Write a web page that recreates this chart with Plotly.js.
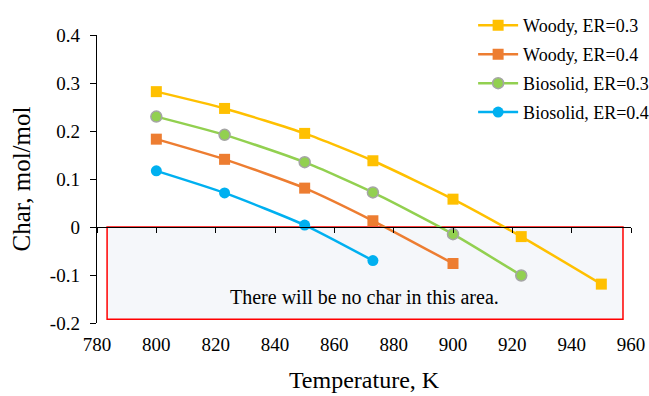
<!DOCTYPE html>
<html>
<head>
<meta charset="utf-8">
<script src="https://cdn.plot.ly/plotly-3.0.1.min.js"></script>
<style>html,body{margin:0;padding:0;background:#fff}#chart{width:649px;height:396px}</style>
</head>
<body>
<div id="chart"></div>
<script>
const temperatures = [800, 823, 850, 873, 900, 923, 950];
const woody03 = [0.282, 0.247, 0.195, 0.138, 0.058, -0.020, -0.119];
const woody04 = [0.183, 0.141, 0.081, 0.013, -0.076];
const bio03 = [0.230, 0.192, 0.135, 0.072, -0.015, -0.101];
const bio04 = [0.117, 0.071, 0.004, -0.070];
const seriesNames = ["Woody, ER=0.3", "Woody, ER=0.4", "Biosolid, ER=0.3", "Biosolid, ER=0.4"];
const yTickVals = [-0.2, -0.1, 0, 0.1, 0.2, 0.3, 0.4];
const yTickText = ["-0.2", "-0.1", "0", "0.1", "0.2", "0.3", "0.4"];
const noCharZone = {x0: 783.4, x1: 957.3, y0: 0, y1: -0.192};
const noCharText = "There will be no char in this area.";

const font = "Liberation Serif, Times New Roman, serif";

function tr(ys, name, color, symbol, lineColor, group) {
  return {
    x: temperatures.slice(0, ys.length), y: ys, name: name,
    type: 'scatter', mode: 'lines+markers',
    line: {color: color, width: 2.5, shape: 'spline', smoothing: 0.6},
    marker: {color: color, symbol: symbol, size: 11,
             line: {color: lineColor, width: lineColor === color ? 0 : 1.5}},
    legendgroup: group
  };
}

const data = [
  tr(woody03, seriesNames[0], '#FFC000', 'square', '#FFC000', 'a'),
  tr(woody04, seriesNames[1], '#ED7D31', 'square', '#ED7D31', 'b'),
  tr(bio03, seriesNames[2], '#92D050', 'circle', '#A5A5A5', 'c'),
  tr(bio04, seriesNames[3], '#00B0F0', 'circle', '#00B0F0', 'd'),
  {x: [], y: [], xaxis: 'x2', yaxis: 'y', showlegend: false, type: 'scatter'}
];

const layout = {
  width: 649, height: 396,
  margin: {l: 97, r: 18, t: 35, b: 73, autoexpand: false},
  paper_bgcolor: '#fff', plot_bgcolor: 'rgba(0,0,0,0)',
  font: {family: font, color: '#000', size: 18},
  showlegend: true,
  legend: {xref: 'container', yref: 'container', x: 0.729, y: 0.982, xanchor: 'left', yanchor: 'top',
           font: {family: font, size: 18, color: '#000'}, itemwidth: 40,
           bgcolor: 'rgba(255,255,255,0)', tracegroupgap: 2.5},
  xaxis: {range: [780, 960], dtick: 20, tick0: 780, showgrid: false, zeroline: false, automargin: false,
          showline: false, ticks: '', tickfont: {family: font, size: 19}, ticklabelstandoff: 8,
          title: {text: 'Temperature, K', font: {family: font, size: 24}, standoff: 17}},
  xaxis2: {overlaying: 'x', matches: 'x', anchor: 'free', position: 1/3,
           range: [780, 960], dtick: 20, tick0: 780, showgrid: false, zeroline: false,
           showline: true, linecolor: '#000', linewidth: 1.3, ticks: 'outside', ticklen: 5,
           tickcolor: '#000', showticklabels: false},
  yaxis: {range: [-0.2, 0.4], tickmode: 'array', tickvals: yTickVals, ticktext: yTickText,
          showgrid: false, zeroline: false, automargin: false,
          showline: true, linecolor: '#000', linewidth: 1.3, ticks: 'outside', ticklen: 6,
          tickcolor: '#000', tickfont: {family: font, size: 19}, ticklabelstandoff: 6,
          title: {text: 'Char, mol/mol', font: {family: font, size: 25}, standoff: 12}},
  shapes: [{type: 'rect', xref: 'x', yref: 'y', x0: noCharZone.x0, x1: noCharZone.x1,
            y0: noCharZone.y0, y1: noCharZone.y1, fillcolor: '#F5F7FA',
            line: {color: '#FF0000', width: 1.5}, layer: 'below'}],
  annotations: [{xref: 'x', yref: 'y', x: 870.3, y: -0.146,
                 text: noCharText, showarrow: false,
                 font: {family: font, size: 20, color: '#000'}}]
};

Plotly.newPlot('chart', data, layout, {displayModeBar: false, staticPlot: true});
</script>
</body>
</html>
